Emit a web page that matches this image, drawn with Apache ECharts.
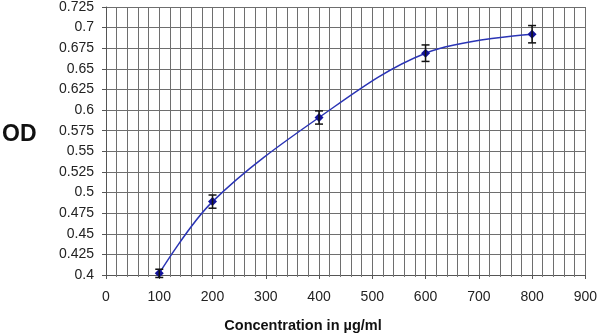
<!DOCTYPE html>
<html>
<head>
<meta charset="utf-8">
<script src="https://cdn.jsdelivr.net/npm/echarts@6/dist/echarts.min.js"></script>
<style>
  html, body { margin: 0; padding: 0; background: #fff; }
  #chart { width: 600px; height: 336px; }
</style>
</head>
<body>
<div id="chart"></div>
<script>
// Concentration (µg/ml) and measured optical density
const concentrations = [100, 200, 400, 600, 800];
const odValues = [0.402, 0.489, 0.591, 0.669, 0.692];
const odErrors = [0.005, 0.008, 0.008, 0.010, 0.0105];
const yTicks = [0.4, 0.425, 0.45, 0.475, 0.5, 0.525, 0.55, 0.575, 0.6, 0.625, 0.65, 0.675, 0.7, 0.725];

const FONT = 'Liberation Sans, Arial, sans-serif';
const gridColor = '#6e6e6e';

const points = concentrations.map((c, i) => [c, odValues[i]]);
const bars = concentrations.map((c, i) => [c, odValues[i] - odErrors[i], odValues[i] + odErrors[i]]);

const chart = echarts.init(document.getElementById('chart'));
chart.setOption({
  animation: false,
  backgroundColor: '#fff',
  grid: { left: 106, right: 12, top: 7, bottom: 61 },
  xAxis: {
    type: 'value', min: 0, max: 900, interval: 100,
    axisLine: { show: true, lineStyle: { color: '#555', width: 1 } },
    axisTick: { show: true, length: 4, lineStyle: { color: '#555' } },
    minorTick: { show: true, splitNumber: 5, length: 2, lineStyle: { color: '#777' } },
    splitLine: { show: true, lineStyle: { color: gridColor, width: 1 } },
    minorSplitLine: { show: true, lineStyle: { color: gridColor, width: 1 } },
    axisLabel: { color: '#222', fontFamily: FONT, fontSize: 14, margin: 15 }
  },
  yAxis: {
    type: 'value', min: 0.4, max: 0.725, interval: 0.025,
    axisLine: { show: true, lineStyle: { color: '#555', width: 1 } },
    axisTick: { show: true, length: 4, lineStyle: { color: '#555' } },
    splitLine: { show: true, lineStyle: { color: gridColor, width: 1 } },
    axisLabel: {
      color: '#222', fontFamily: FONT, fontSize: 14, margin: 12,
      formatter: v => {
        const t = yTicks.find(k => Math.abs(k - v) < 1e-6);
        return String(t !== undefined ? t : +v.toFixed(3));
      }
    }
  },
  graphic: [
    {
      type: 'text', left: 2, top: 123,
      style: { text: 'OD', fontFamily: FONT, fontSize: 23, fontWeight: 'bold', fill: '#111' }
    },
    {
      type: 'text', x: 303, y: 326,
      style: {
        text: 'Concentration in µg/ml', fontFamily: FONT, fontSize: 14.5, fontWeight: 'bold',
        fill: '#111', align: 'center', verticalAlign: 'middle'
      }
    }
  ],
  series: [
    {
      type: 'line', data: points, smooth: 0.35,
      symbol: 'diamond', symbolSize: 9,
      lineStyle: { color: '#2b35b5', width: 1.5 },
      itemStyle: { color: '#13139a' },
      z: 3
    },
    {
      type: 'custom', data: bars, z: 4,
      renderItem: (params, api) => {
        const x = api.value(0);
        const lo = api.coord([x, api.value(1)]);
        const hi = api.coord([x, api.value(2)]);
        const cap = 4;
        const style = { stroke: '#111', lineWidth: 1.5 };
        return {
          type: 'group',
          children: [
            { type: 'line', shape: { x1: lo[0], y1: lo[1], x2: hi[0], y2: hi[1] }, style },
            { type: 'line', shape: { x1: lo[0] - cap, y1: lo[1], x2: lo[0] + cap, y2: lo[1] }, style },
            { type: 'line', shape: { x1: hi[0] - cap, y1: hi[1], x2: hi[0] + cap, y2: hi[1] }, style }
          ]
        };
      }
    }
  ]
});
</script>
</body>
</html>
